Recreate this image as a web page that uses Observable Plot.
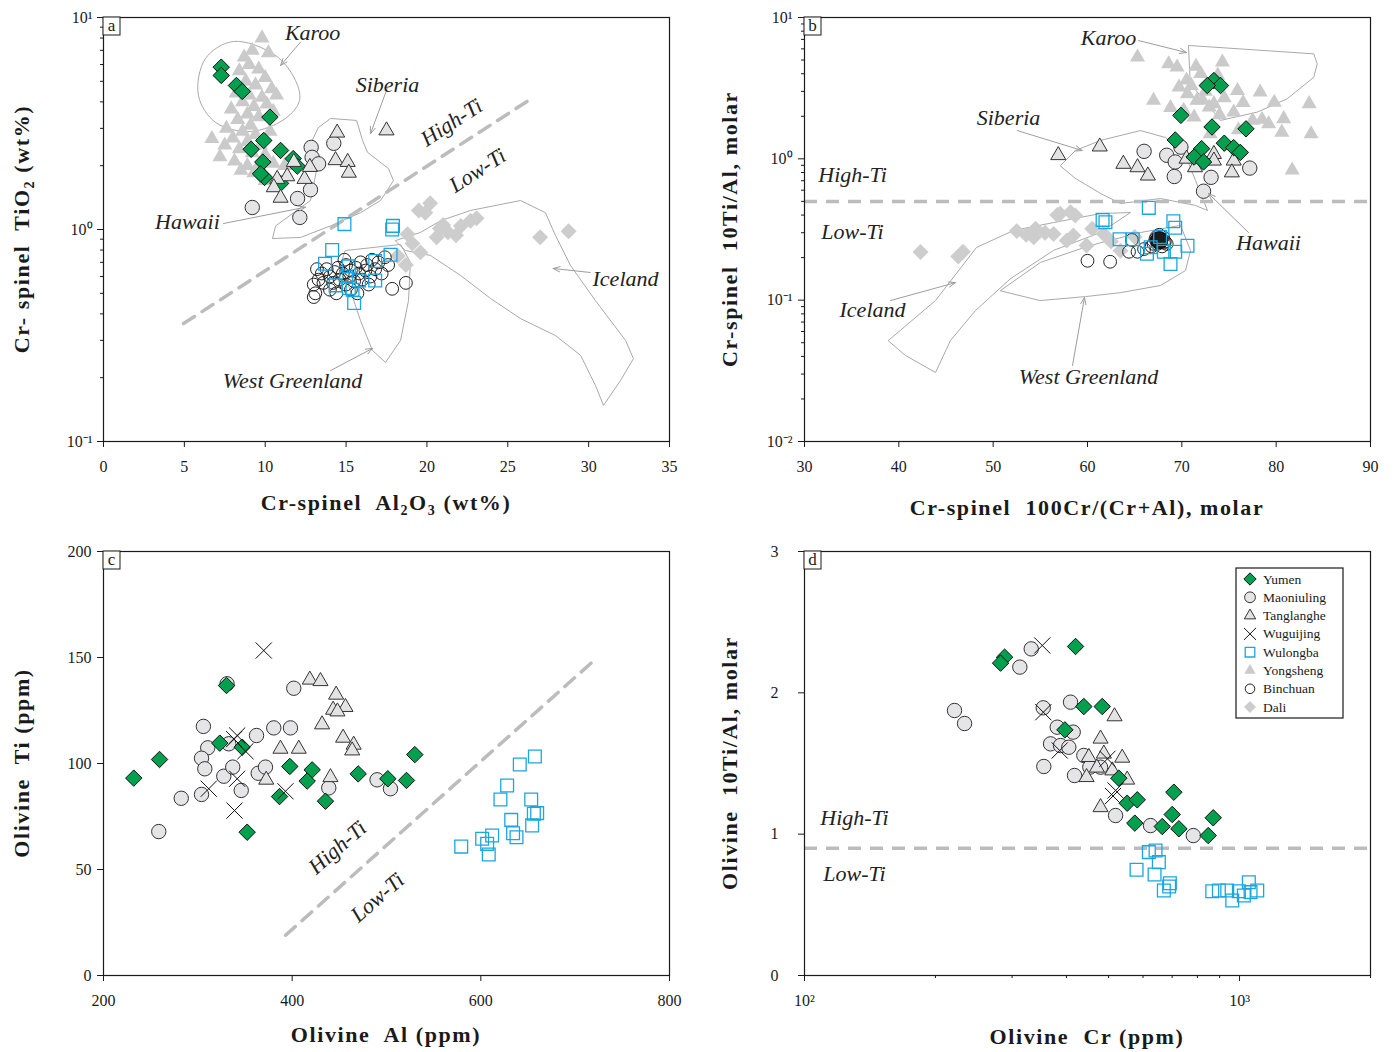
<!DOCTYPE html>
<html><head><meta charset="utf-8">
<script src="https://cdn.jsdelivr.net/npm/d3@7"></script>
<script src="https://cdn.jsdelivr.net/npm/@observablehq/plot@0.6"></script>
<style>
body{margin:0;background:#fff;}
#wrap{position:relative;width:1397px;height:1052px;background:#fff;}
#wrap svg{position:absolute;}
</style></head><body><div id="wrap"></div>
<script>
// ---------------- DATA ----------------
// Panel a: Cr-spinel Al2O3 (wt%) vs TiO2 (wt%)
const aYumen = [[7.28,5.83],[7.28,5.33],[8.22,4.78],[8.58,4.48],[10.29,3.39],[9.91,2.63],[9.13,2.39],[10.95,2.36],[11.73,2.16],[11.98,1.99],[9.85,2.08],[9.96,1.76],[9.71,1.83],[10.95,1.65]];
const aMaoniuling = [[9.2,1.27],[12.14,1.14],[12.0,1.40],[12.8,1.54],[12.84,2.44],[12.9,2.19],[13.3,2.04],[14.24,2.55]];
const aTanglanghe = [[14.45,2.86],[17.5,2.93],[14.35,2.12],[15.1,2.08],[15.17,1.85],[11.77,2.08],[12.43,1.73],[11.36,1.78],[10.74,1.73],[10.53,1.58],[10.95,1.41],[12.76,1.97]];
const aWulongba = [[14.9,1.06],[17.9,1.04],[17.85,1.0],[14.14,0.80],[13.7,0.69],[15.17,0.67],[16.8,0.71],[17.75,0.76],[15.8,0.575],[16.8,0.575],[14.35,0.545],[15.17,0.53],[15.4,0.52],[15.5,0.45],[15.0,0.6]];
const aYongsheng = [[9.8,8.0],[9.2,7.0],[8.7,6.5],[10.2,6.8],[9.0,6.0],[8.4,5.6],[9.6,5.7],[10.0,5.2],[8.8,5.0],[9.4,4.8],[10.4,4.6],[8.2,4.4],[9.0,4.3],[9.8,4.2],[10.7,4.3],[8.6,4.0],[9.3,3.8],[10.1,3.9],[7.9,3.7],[8.9,3.5],[9.6,3.4],[10.5,3.6],[8.3,3.3],[9.1,3.1],[7.6,3.0],[8.6,2.9],[9.4,2.8],[10.3,2.9],[8.0,2.7],[8.9,2.6],[9.7,2.5],[7.5,2.5],[8.4,2.4],[9.2,2.3],[10.0,2.25],[7.2,2.2],[8.1,2.1],[8.9,2.0],[9.6,2.0],[10.5,2.05],[8.5,1.9],[9.3,1.85],[6.7,2.68],[10.0,1.7],[11.2,2.0]];
const aBinchuan = [[13.0,0.48],[13.1,0.50],[13.0,0.55],[13.3,0.58],[13.5,0.62],[13.8,0.65],[14.0,0.60],[14.2,0.56],[14.3,0.63],[14.5,0.66],[14.6,0.58],[14.8,0.62],[15.0,0.55],[15.0,0.68],[15.2,0.60],[15.3,0.64],[15.5,0.57],[15.6,0.66],[15.8,0.62],[15.9,0.70],[16.0,0.58],[16.2,0.64],[16.3,0.68],[16.5,0.60],[16.6,0.72],[16.8,0.65],[17.0,0.70],[17.2,0.62],[17.4,0.74],[17.6,0.68],[14.0,0.52],[14.4,0.50],[15.3,0.52],[15.7,0.50],[16.4,0.55],[13.6,0.56],[17.85,0.525],[18.7,0.56],[14.9,0.72],[13.2,0.65]];
const aDali = [[20.2,1.33],[19.5,1.23],[22.1,1.04],[23.07,1.13],[27.0,0.92],[28.76,0.98],[21.3,0.97],[20.6,0.92],[19.1,0.86],[19.6,0.78],[18.7,0.68],[18.2,0.75],[20.8,1.01],[21.8,0.94],[19.9,1.2],[22.7,1.1],[18.8,0.95],[21.0,1.05]];
const aKaroo = [[8.04,7.71],[10.64,6.62],[11.87,5.05],[12.12,4.06],[11.25,3.34],[9.09,2.90],[6.93,3.20],[5.87,4.29],[6.31,6.41]];
const aSiberia = [[13.30,3.03],[14.04,3.34],[15.65,3.27],[16.02,2.63],[16.33,2.31],[17.62,1.94],[17.93,1.70],[17.13,1.37],[15.89,1.20],[14.04,1.04],[12.18,0.917],[10.45,0.907],[10.64,1.04],[12.80,1.37],[13.17,1.90],[12.92,2.63]];
const aIceland = [[18.06,0.887],[19.60,0.968],[20.84,1.10],[22.70,1.23],[25.79,1.37],[27.33,1.20],[27.95,0.937],[28.88,0.676],[30.42,0.462],[32.28,0.300],[32.77,0.246],[31.97,0.194],[30.92,0.148],[30.42,0.184],[29.50,0.255],[27.95,0.316],[25.79,0.380],[23.93,0.473],[22.08,0.607],[20.22,0.754],[18.68,0.796]];
const aWestGreenland = [[14.97,0.796],[18.37,0.850],[18.98,0.699],[18.86,0.462],[18.37,0.300],[17.44,0.236],[16.63,0.269],[15.89,0.372],[15.27,0.515],[14.66,0.676]];
const aDivide = [[4.95,0.36],[26.28,4.06]];
const aArrows = [[12.18,7.65,10.95,5.94],[17.54,4.62,16.51,2.83],[7.42,1.067,12.49,1.274],[30.1,0.627,27.8,0.655],[14.04,0.216,16.64,0.275]];
const aRegionLabels = [[12.93,8.5,"Karoo"],[17.56,4.83,"Siberia"],[5.19,1.08,"Hawaii"],[32.28,0.587,"Iceland"],[11.69,0.192,"West Greenland"]];
const aTiLabels = [[21.52,3.2,"High-Ti"],[23.13,1.9,"Low-Ti"]];

// Panel b: Cr-spinel 100Cr/(Cr+Al) vs 10Ti/Al
const bYumen = [[73.4,3.58],[74.1,3.3],[72.7,3.3],[69.9,2.03],[73.2,1.68],[76.8,1.63],[69.3,1.36],[72.1,1.18],[71.3,1.03],[72.3,0.95],[74.5,1.29],[75.5,1.2],[76.2,1.11]];
const bMaoniuling = [[66.0,1.13],[68.4,1.06],[69.9,1.21],[69.3,0.95],[69.2,0.75],[73.1,0.74],[72.3,0.59],[77.2,0.86]];
const bTanglanghe = [[56.9,1.06],[61.3,1.22],[63.8,0.92],[65.3,0.87],[66.4,0.76],[70.5,1.0],[71.4,0.87],[73.4,1.08],[73.4,0.97],[75.5,0.97],[75.3,0.8]];
const bWulongba = [[66.5,0.45],[61.6,0.37],[61.9,0.356],[69.1,0.362],[69.3,0.325],[63.4,0.27],[64.8,0.27],[66.7,0.237],[67.7,0.28],[68.1,0.22],[69.3,0.22],[70.6,0.243],[68.8,0.18],[66.3,0.213]];
const bYongsheng = [[65.3,5.24],[67.0,2.59],[68.6,4.7],[69.5,4.45],[69.7,3.21],[70.6,2.88],[72.0,4.0],[74.3,4.83],[71.6,2.59],[73.4,2.45],[75.9,3.04],[78.3,2.96],[79.8,2.51],[80.8,1.92],[79.2,1.77],[80.6,1.54],[83.5,2.45],[83.7,1.5],[81.7,0.83],[71.3,1.97],[72.9,2.32],[75.5,2.14],[77.5,1.87],[70.5,3.6],[72.5,3.0],[73.8,3.9],[71.0,3.3],[74.5,2.7],[76.5,2.5],[68.8,2.3],[70.2,2.2],[72.2,2.6],[74.0,2.05],[76.0,1.6],[73.0,1.5],[78.5,1.9],[71.5,4.5]];
const bBinchuan = [[60.0,0.19],[62.4,0.187],[64.7,0.267],[64.4,0.22],[65.3,0.22],[66.0,0.23],[66.8,0.24],[67.2,0.27],[67.6,0.26],[68.0,0.28],[67.4,0.25],[67.8,0.27],[68.2,0.26],[67.6,0.29],[67.0,0.25],[68.4,0.25],[67.9,0.24],[67.3,0.28],[67.7,0.265],[68.1,0.255],[67.5,0.27]];
const bBinchuanDense = [[67.6,0.265]];
const bDali = [[42.3,0.219],[46.3,0.204],[46.8,0.22],[52.5,0.308],[54.5,0.32],[54.3,0.279],[56.4,0.294],[57.1,0.408],[58.2,0.419],[58.7,0.397],[57.8,0.264],[58.5,0.287],[59.9,0.244],[56.8,0.4],[55.5,0.3],[61.7,0.295],[63.5,0.224],[60.5,0.32],[62.5,0.26],[65.0,0.28],[53.5,0.29]];
const bKaroo = [[70.74,6.34],[83.99,5.53],[84.35,4.70],[83.99,3.78],[81.17,2.66],[77.99,2.14],[74.1,1.87],[70.92,3.40]];
const bSiberia = [[57.14,0.897],[58.73,1.146],[61.38,1.35],[65.62,1.585],[68.27,1.415],[70.39,1.057],[71.45,0.703],[72.30,0.507],[72.72,0.431],[71.45,0.468],[67.74,0.524],[63.50,0.483],[61.38,0.569],[58.73,0.726]];
const bIceland = [[38.90,0.0519],[43.89,0.0994],[48.23,0.236],[52.16,0.311],[56.40,0.354],[61.38,0.410],[64.56,0.417],[61.38,0.301],[56.40,0.225],[51.84,0.142],[48.13,0.0845],[45.48,0.0519],[43.89,0.0308],[40.71,0.0406]];
const bWestGreenland = [[50.78,0.117],[55.02,0.185],[60.32,0.244],[65.62,0.301],[69.86,0.338],[70.92,0.225],[70.39,0.162],[67.74,0.127],[63.50,0.113],[59.79,0.106],[55.02,0.0994]];
const bDivide = [0.5];
const bArrows = [[65.41,6.87,70.5,5.65],[52.55,1.585,59.44,1.145],[77.07,0.301,72.83,0.568],[39.12,0.0994,46.0,0.133],[58.41,0.0345,59.68,0.1045]];
const bRegionLabels = [[62.23,7.22,"Karoo"],[51.63,1.96,"Siberia"],[79.19,0.252,"Hawaii"],[37.21,0.0846,"Iceland"],[60.11,0.0284,"West Greenland"]];
const bTiLabels = [[35.09,0.775,"High-Ti"],[35.09,0.306,"Low-Ti"]];

// Panel c: Olivine Al (ppm) vs Ti (ppm)
const cYumen = [[232.1,93.1],[259.4,101.9],[330.4,136.8],[323.3,109.6],[347,107.7],[397.5,98.6],[421.2,97.0],[415.9,91.7],[386.6,84.4],[435.3,82.2],[352.3,67.6],[470,95.1],[501.4,92.8],[521.2,92.0],[530,104.2]];
const cMaoniuling = [[305.9,117.5],[310.5,107.4],[303.9,102.5],[307.4,97.5],[303.9,85.4],[282.4,83.6],[258.6,67.9],[332.8,109.3],[327.5,94.0],[337,98.3],[346,87.3],[362.2,113.2],[380.5,116.8],[398.2,116.8],[401.7,135.5],[364,95.4],[371.7,98.3],[438.8,88.5],[490,92.3],[504.2,88.1],[331,137.6]];
const cTanglanghe = [[418.7,139.5],[430,138.8],[446.6,132.4],[443.4,125.3],[456.5,126.6],[448,124.5],[431.7,118.4],[454,112.1],[465.2,108.8],[463.6,106.1],[387.6,106.9],[407,106.9],[372.5,92.3],[440.6,93.5]];
const cWuguijing = [[369.9,153.3],[341.7,113.2],[338.5,111.5],[350.5,105.8],[341.7,92.8],[311.6,88.1],[392.9,86.9],[338.9,77.8]];
const cWulongba = [[657.3,103.3],[641.3,99.5],[627.9,89.6],[620.8,83.0],[653.4,83.0],[632.2,73.4],[656.2,76.3],[659.7,76.6],[654.4,70.8],[612,66.0],[601.4,64.5],[634.2,67.1],[637.8,65.2],[606.7,62.1],[608.4,57.1],[579.2,60.8]];
const cDivide = [[393,19],[721,149]];
const cTiLabels = [[448,60.4,"High-Ti"],[490.4,36.8,"Low-Ti"]];

// Panel d: Olivine Cr (ppm) vs 10Ti/Al
const dYumen = [[288.4,2.252],[282.3,2.21],[419.8,2.328],[438.6,1.903],[483.5,1.903],[396.8,1.738],[527.9,1.396],[551.7,1.219],[581.9,1.243],[706.3,1.297],[574.5,1.078],[664.2,1.054],[700.2,1.139],[725.4,1.038],[870,1.116],[847.3,0.99]];
const dMaoniuling = [[221.2,1.875],[233.3,1.783],[332,2.311],[312.6,2.182],[408.8,1.934],[353.8,1.894],[381,1.757],[414.6,1.722],[367.8,1.639],[387.7,1.627],[405.1,1.615],[354.9,1.479],[417.5,1.415],[438.6,1.557],[452.8,1.474],[479.2,1.474],[518.8,1.132],[624.3,1.061],[782.9,0.99]];
const dTanglanghe = [[479.2,1.675],[450.4,1.545],[487.6,1.569],[445,1.403],[479.2,1.19],[537.4,1.54],[551.7,1.385],[516,1.833],[510,1.45],[470,1.47]];
const dWuguijing = [[352,2.335],[354,1.863],[386,1.592],[497,1.533],[519,1.309],[512,1.27]];
const dWulongba = [[641.1,0.884],[618.8,0.873],[652.4,0.802],[579.8,0.748],[637.8,0.715],[691.6,0.653],[688.9,0.63],[669.9,0.601],[865.5,0.596],[896.4,0.601],[937,0.601],[962.1,0.53],[996.5,0.596],[1050.5,0.66],[1060,0.59],[1098.3,0.601],[1023,0.566]];
const dDivide = [0.9];
const dTiLabels = [[130.3,1.118,"High-Ti"],[130.3,0.715,"Low-Ti"]];

const legendNames = ["Yumen","Maoniuling","Tanglanghe","Wuguijing","Wulongba","Yongsheng","Binchuan","Dali"];

// ---------------- STYLE ----------------
const FONT = "'Liberation Serif','Times New Roman',Times,serif";
const POLY = "#a9a9a9", DASH = "#bcbcbc", ARROW = "#9d9d9d", INK = "#1a1a1a";
const S = {
  Yumen: {symbol:"diamond2", r:7.4, fill:"#00a04f", stroke:"#111", strokeWidth:1},
  Maoniuling: {symbol:"circle", r:7.2, fill:"#e5e5e8", stroke:"#333", strokeWidth:1},
  Tanglanghe: {symbol:"triangle", r:5.6, fill:"#e3e3e3", stroke:"#333", strokeWidth:1},
  Wuguijing: {symbol:"times", r:7.4, fill:"none", stroke:"#111", strokeWidth:1},
  Wulongba: {symbol:"square", r:7.2, fill:"none", stroke:"#1ba6e0", strokeWidth:1.3},
  Yongsheng: {symbol:"triangle", r:5.6, fill:"#cacaca", stroke:"none"},
  Binchuan: {symbol:"circle", r:6.4, fill:"none", stroke:"#222", strokeWidth:1},
  Dali: {symbol:"diamond2", r:7.2, fill:"#cdcdcd", stroke:"none"}
};
const X = d => d[0], Y = d => d[1];
const dots = (data, key) => Plot.dot(data, {x: X, y: Y, ...S[key]});
const poly = (data, curve="linear-closed") => Plot.line(data, {x: X, y: Y, curve, stroke: POLY, strokeWidth: 1, clip: true});
const arrows = data => Plot.arrow(data, {x1: d=>d[0], y1: d=>d[1], x2: d=>d[2], y2: d=>d[3], stroke: ARROW, strokeWidth: 1, headLength: 11, headAngle: 42});
const italic = (data, extra={}) => Plot.text(data, {x: X, y: Y, text: d=>d[2], fontFamily: FONT, fontStyle: "italic", fontSize: 22, fill: "#222", ...extra});

const supMap = {"-":"⁻","0":"⁰","1":"¹","2":"²","3":"³"};
const pow10 = v => "10" + String(Math.round(Math.log10(v))).split("").map(c => supMap[c]).join("");
const minorLog = (lo, hi) => { const out = []; for (let e = lo; e < hi; e++) for (let k = 2; k <= 9; k++) out.push(k * 10 ** e); return out; };

const wrap = document.getElementById("wrap");

function richText(sel, parts) {
  let shifted = false;
  parts.forEach(([t, k]) => {
    const ts = sel.append("tspan").text(t);
    if (k === "sub") { ts.attr("font-size", "14px").attr("dy", shifted ? 0 : 5); shifted = true; }
    else if (shifted) { ts.attr("dy", -5); shifted = false; }
  });
}

function panel(cfg) {
  const svg = Plot.plot({
    width: cfg.width, height: cfg.height,
    marginLeft: cfg.ml, marginRight: cfg.mr, marginTop: cfg.mt, marginBottom: cfg.mb,
    style: {fontFamily: FONT, fontSize: "16px", color: INK, background: "transparent", overflow: "visible"},
    x: {...cfg.x, axis: null},
    y: {...cfg.y, axis: null},
    marks: [...cfg.marks, ...cfg.axes, Plot.frame({stroke: INK, strokeWidth: 1.2})]
  });
  svg.style.left = cfg.left + "px";
  svg.style.top = cfg.top + "px";
  wrap.appendChild(svg);
  const g = d3.select(svg);
  // x label
  const xl = g.append("text").attr("x", cfg.ml + (cfg.width - cfg.ml - cfg.mr) / 2).attr("y", cfg.height - cfg.mb + cfg.xlOff)
    .attr("text-anchor", "middle").attr("font-family", FONT).attr("font-weight", "bold").attr("font-size", 22)
    .attr("letter-spacing", 1.6).style("white-space", "pre").attr("fill", INK);
  richText(xl, cfg.xLabel);
  const cy = cfg.mt + (cfg.height - cfg.mt - cfg.mb) / 2;
  const yl = g.append("text").attr("transform", `translate(${cfg.ylX},${cy}) rotate(-90)`)
    .attr("text-anchor", "middle").attr("font-family", FONT).attr("font-weight", "bold").attr("font-size", 22)
    .attr("letter-spacing", 1.6).style("white-space", "pre").attr("fill", INK);
  richText(yl, cfg.yLabel);
  // panel letter
  g.append("rect").attr("x", cfg.ml).attr("y", cfg.mt).attr("width", 17).attr("height", 18).attr("fill", "#fff").attr("stroke", INK).attr("stroke-width", 1);
  g.append("text").attr("x", cfg.ml + 8.5).attr("y", cfg.mt + 14).attr("text-anchor", "middle").attr("font-family", FONT).attr("font-size", 17).attr("fill", INK).text(cfg.letter);
  return g;
}

const majorY = (ticks, fmt, pad) => Plot.axisY({ticks, tickFormat: fmt, tickSize: 6, tickPadding: pad, fontSize: 16, label: null});
const minorY = ticks => Plot.axisY({ticks, tickFormat: () => "", tickSize: 3, label: null});
const majorX = (ticks, fmt) => Plot.axisX({ticks, tickFormat: fmt, tickSize: 6, tickPadding: 13, fontSize: 16, label: null});
const minorX = ticks => Plot.axisX({ticks, tickFormat: () => "", tickSize: 3, label: null});

// ---------------- PANEL a ----------------
panel({
  left: 0, top: 0, width: 698, height: 527, ml: 103, mr: 29, mt: 17, mb: 86, xlOff: 69, ylX: 29, letter: "a",
  x: {type: "linear", domain: [0, 35]},
  y: {type: "log", domain: [0.1, 10]},
  xLabel: [["Cr-spinel  Al"],["2","sub"],["O"],["3","sub"],[" (wt%)"]],
  yLabel: [["Cr- spinel  TiO"],["2","sub"],[" (wt%)"]],
  axes: [minorY(minorLog(-1, 1)), majorY([0.1, 1, 10], pow10, 5), majorX(d3.range(0, 36, 5), d => String(d))],
  marks: [
    poly(aKaroo, "catmull-rom-closed"), poly(aSiberia), poly(aIceland), poly(aWestGreenland),
    Plot.line(aDivide, {x: X, y: Y, stroke: DASH, strokeWidth: 3.5, strokeDasharray: "13,9"}),
    dots(aDali, "Dali"), dots(aYongsheng, "Yongsheng"), dots(aBinchuan, "Binchuan"), dots(aWulongba, "Wulongba"),
    dots(aMaoniuling, "Maoniuling"), dots(aYumen, "Yumen"), dots(aTanglanghe, "Tanglanghe"),
    arrows(aArrows), italic(aRegionLabels), italic(aTiLabels, {rotate: -33})
  ]
});

// ---------------- PANEL b ----------------
panel({
  left: 699, top: 0, width: 698, height: 527, ml: 105, mr: 27, mt: 17, mb: 86, xlOff: 74, ylX: 38, letter: "b",
  x: {type: "linear", domain: [30, 90]},
  y: {type: "log", domain: [0.01, 10]},
  xLabel: [["Cr-spinel  100Cr/(Cr+Al), molar"]],
  yLabel: [["Cr-spinel  10Ti/Al, molar"]],
  axes: [minorY(minorLog(-2, 1)), majorY([0.01, 0.1, 1, 10], pow10, 6), majorX(d3.range(30, 91, 10), d => String(d))],
  marks: [
    poly(bKaroo), poly(bSiberia), poly(bIceland), poly(bWestGreenland),
    Plot.ruleY(bDivide, {stroke: DASH, strokeWidth: 3.5, strokeDasharray: "13,9"}),
    dots(bDali, "Dali"), dots(bYongsheng, "Yongsheng"), dots(bBinchuan, "Binchuan"),
    Plot.dot(bBinchuanDense, {x: X, y: Y, r: 8.5, fill: "#1c1c1c", stroke: "#111"}),
    dots(bWulongba, "Wulongba"),
    dots(bMaoniuling, "Maoniuling"), dots(bTanglanghe, "Tanglanghe"), dots(bYumen, "Yumen"),
    arrows(bArrows), italic(bRegionLabels), italic(bTiLabels)
  ]
});

// ---------------- PANEL c ----------------
panel({
  left: 0, top: 527, width: 698, height: 525, ml: 103, mr: 29, mt: 24, mb: 77, xlOff: 67, ylX: 29, letter: "c",
  x: {type: "linear", domain: [200, 800]},
  y: {type: "linear", domain: [0, 200]},
  xLabel: [["Olivine  Al (ppm)"]],
  yLabel: [["Olivine  Ti (ppm)"]],
  axes: [majorY(d3.range(0, 201, 50), d => String(d), 6), majorX([200, 400, 600, 800], d => String(d))],
  marks: [
    Plot.line(cDivide, {x: X, y: Y, stroke: DASH, strokeWidth: 3.5, strokeDasharray: "13,9"}),
    dots(cMaoniuling, "Maoniuling"), dots(cYumen, "Yumen"), dots(cTanglanghe, "Tanglanghe"),
    dots(cWuguijing, "Wuguijing"), dots(cWulongba, "Wulongba"),
    italic(cTiLabels, {rotate: -41})
  ]
});

// ---------------- PANEL d ----------------
const gd = panel({
  left: 699, top: 527, width: 698, height: 525, ml: 105, mr: 27, mt: 24, mb: 77, xlOff: 69, ylX: 38, letter: "d",
  x: {type: "log", domain: [100, 2000]},
  y: {type: "linear", domain: [0, 3]},
  xLabel: [["Olivine  Cr (ppm)"]],
  yLabel: [["Olivine  10Ti/Al, molar"]],
  axes: [majorY([0, 1, 2, 3], d => String(d), 20), minorX([200,300,400,500,600,700,800,900,2000]), majorX([100, 1000], pow10)],
  marks: [
    Plot.ruleY(dDivide, {stroke: DASH, strokeWidth: 3.5, strokeDasharray: "13,9"}),
    dots(dMaoniuling, "Maoniuling"), dots(dTanglanghe, "Tanglanghe"), dots(dWuguijing, "Wuguijing"),
    dots(dYumen, "Yumen"), dots(dWulongba, "Wulongba"),
    italic(dTiLabels)
  ]
});

// legend (inside panel d, top-right)
const symType = {diamond2: d3.symbolDiamond2, circle: d3.symbolCircle, triangle: d3.symbolTriangle, times: d3.symbolTimes, square: d3.symbolSquare};
const lg = gd.append("g").attr("transform", "translate(537,41)");
lg.append("rect").attr("width", 107).attr("height", 150).attr("fill", "#fff").attr("stroke", INK).attr("stroke-width", 1.2);
legendNames.forEach((name, i) => {
  const s = S[name];
  const y = 11 + i * 18.3;
  const sz = Math.PI * (s.r * 0.75) ** 2;
  lg.append("path").attr("d", d3.symbol(symType[s.symbol], sz)()).attr("transform", `translate(14,${y})`)
    .attr("fill", s.fill).attr("stroke", s.stroke).attr("stroke-width", s.strokeWidth || 0);
  lg.append("text").attr("x", 27).attr("y", y + 4.5).attr("text-anchor", "start").attr("font-family", FONT)
    .attr("font-size", 13.5).attr("fill", INK).text(name);
});
</script></body></html>
